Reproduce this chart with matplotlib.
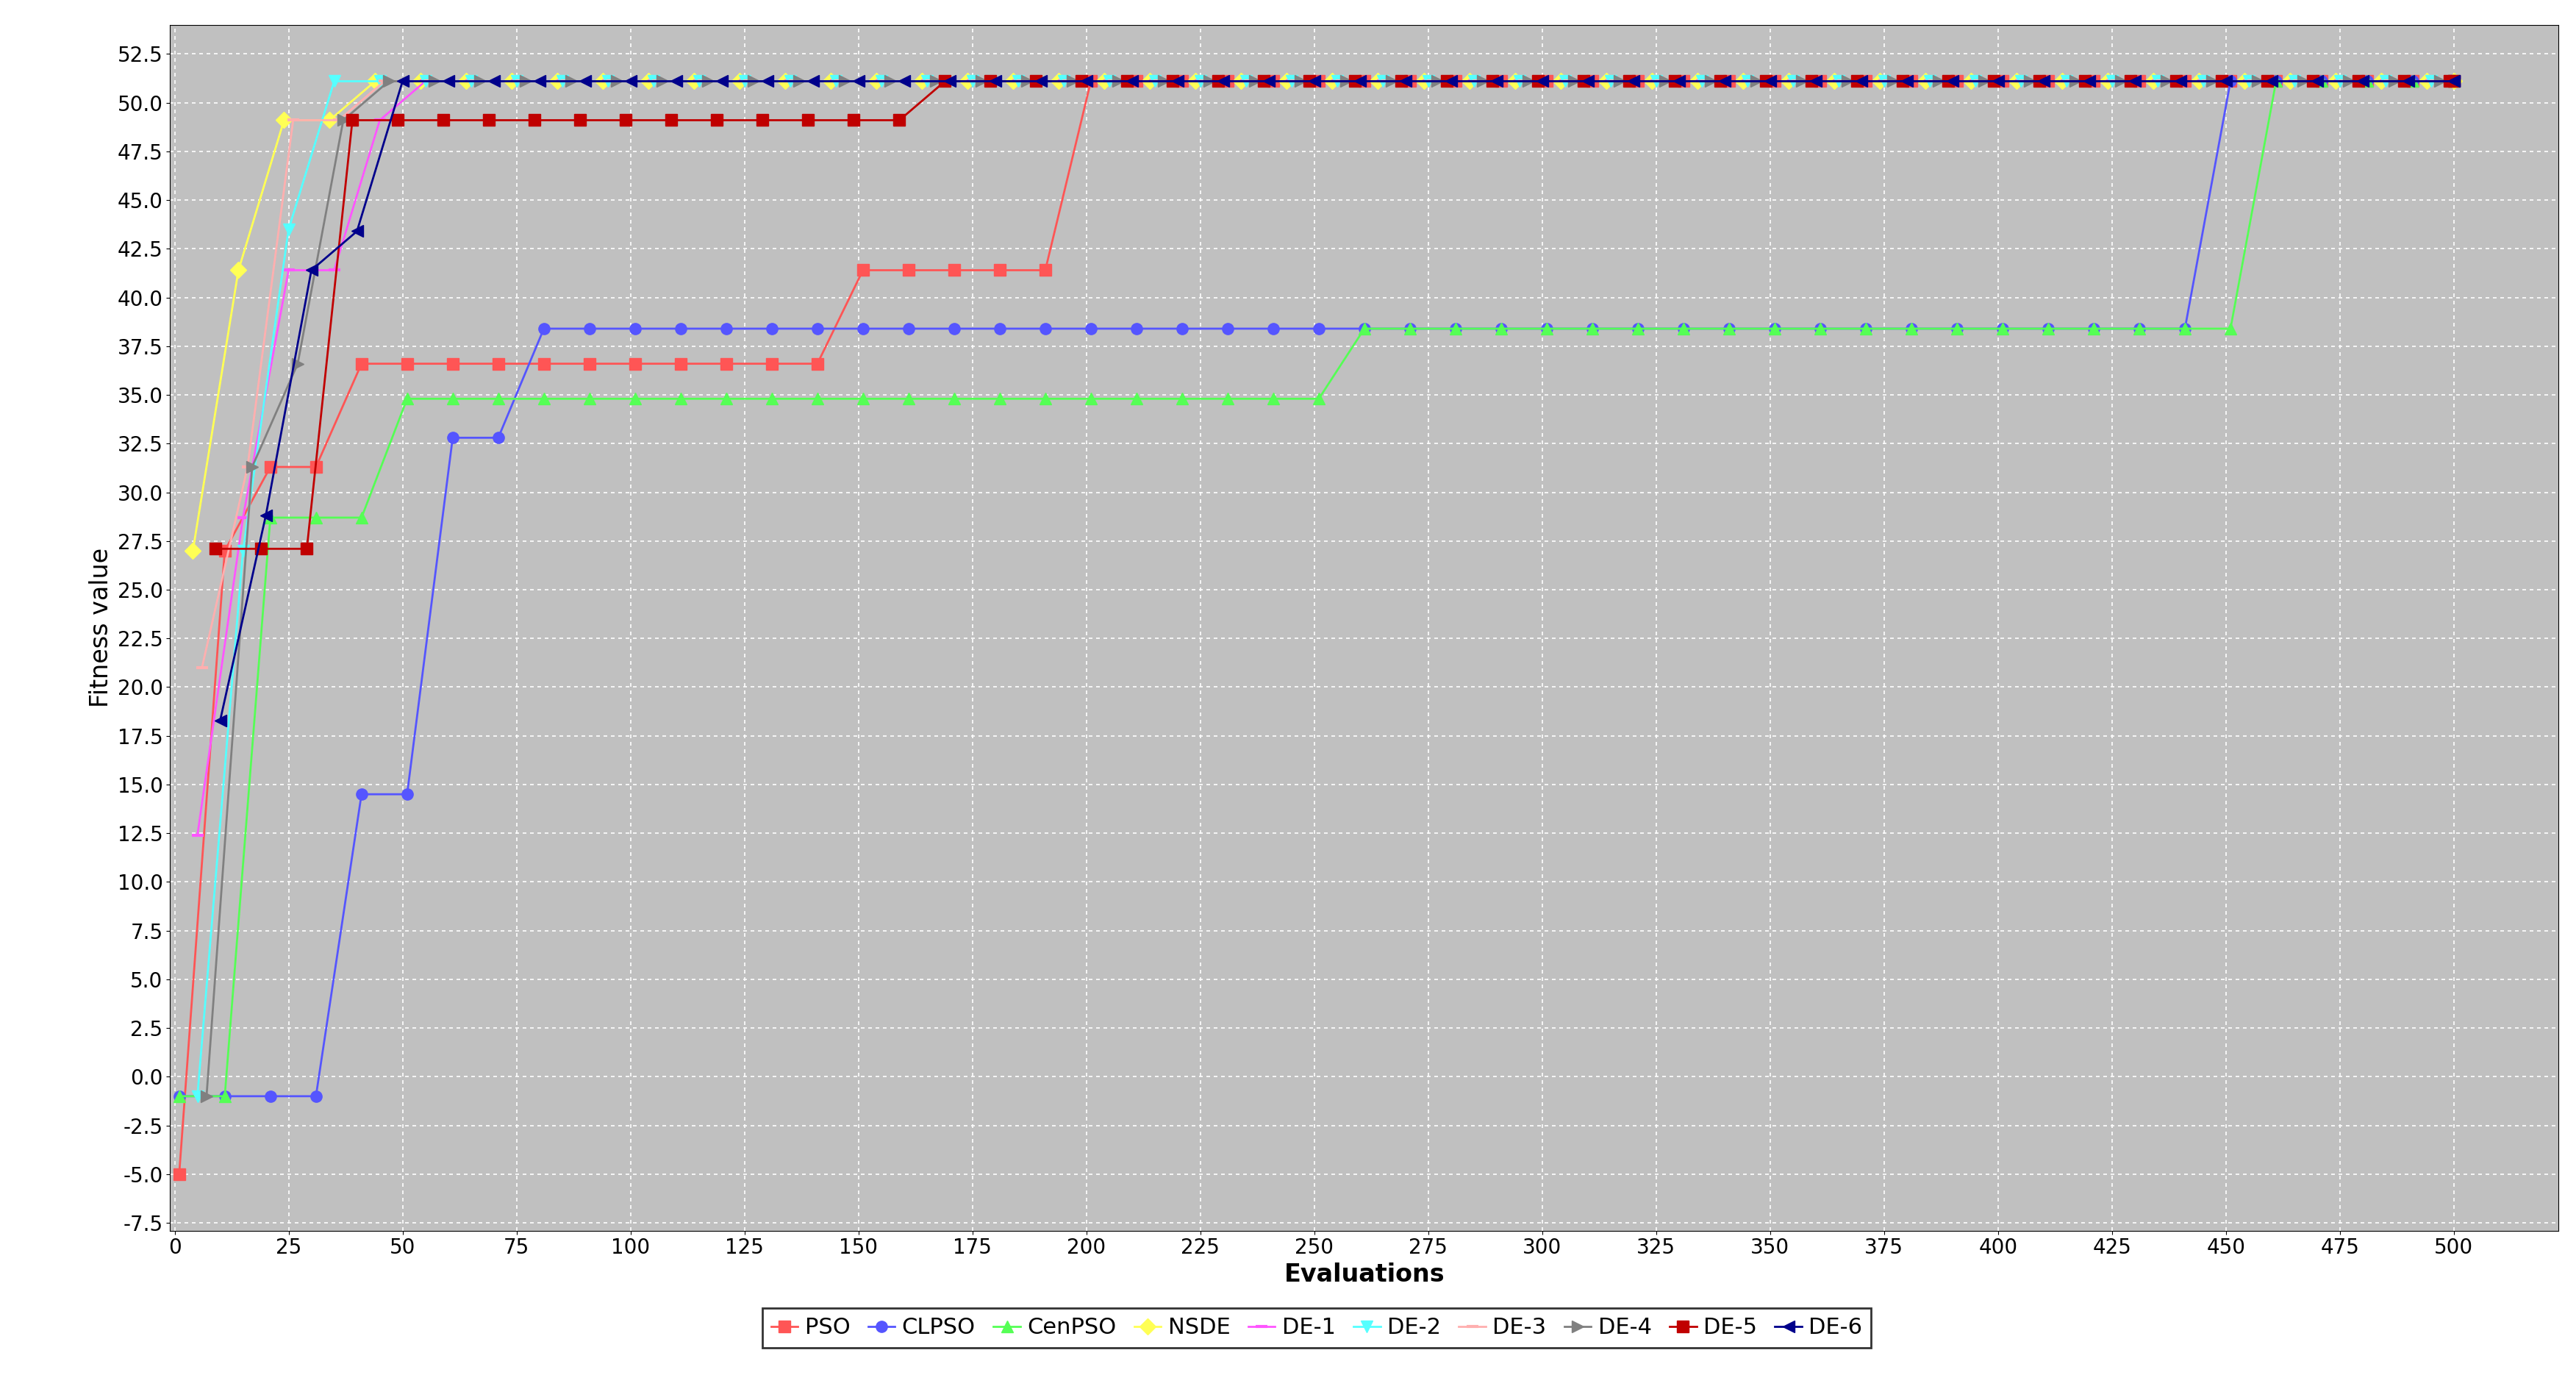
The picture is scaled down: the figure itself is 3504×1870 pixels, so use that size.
import numpy as np
from matplotlib import pyplot as plt

names = ["PSO", "CLPSO", "CenPSO", "NSDE", "DE-1", "DE-2", "DE-3", "DE-4", "DE-5", "DE-6"]
colors = ["#ff5555", "#5555ff", "#55ff55", "#ffff55", "#ff55ff", "#55ffff",
          "#ffafaf", "#808080", "#c00000", "#00008b"]
markers = ["s", "o", "^", "D", "_", "v", "_", ">", "s", "<"]
offsets = [1, 1, 1, 4, 5, 5, 6, 7, 9, 10]

pso = [-5.0, 27.0, 31.3, 31.3] + [36.6] * 11 + [41.4] * 5 + [51.1] * 31
clpso = [-1.0, -1.0, -1.0, -1.0, 14.5, 14.5, 32.8, 32.8] + [38.4] * 37 + [51.1] * 6
cenpso = [-1.0, -1.0, 28.7, 28.7, 28.7] + [34.8] * 21 + [38.4] * 20 + [51.1] * 5
nsde = [27.0, 41.4, 49.1, 49.1] + [51.1] * 47
de1 = [12.4, 28.7, 41.4, 41.4, 49.1] + [51.1] * 46
de2 = [-1.0, 27.0, 43.5] + [51.1] * 48
de3 = [21.0, 31.3, 49.1, 49.1] + [51.1] * 47
de4 = [-1.0, 31.3, 36.6, 49.1] + [51.1] * 47
de5 = [27.1, 27.1, 27.1] + [49.1] * 13 + [51.1] * 35
de6 = [18.3, 28.8, 41.4, 43.4] + [51.1] * 47
series = [pso, clpso, cenpso, nsde, de1, de2, de3, de4, de5, de6]

fig, ax = plt.subplots(figsize=(35.05, 18.7), dpi=100)
fig.subplots_adjust(left=0.066, right=0.993, top=0.982, bottom=0.105)
ax.set_facecolor("#c0c0c0")

for name, c, m, off, ys in zip(names, colors, markers, offsets, series):
    xs = np.arange(off, off + 10 * len(ys), 10)[:len(ys)]
    xs[-1] = 500
    xs = np.minimum(xs, 500)
    ax.plot(xs, ys, color=c, marker=m, markersize=11, markeredgewidth=3 if m == "_" else 1,
            markeredgecolor=c, linewidth=2, label=name)

ax.set_xlim(-1, 523)
ax.set_ylim(-7.9, 54)
ax.set_xticks(np.arange(0, 501, 25))
ax.set_yticks(np.arange(-7.5, 52.6, 2.5))
ax.yaxis.set_major_formatter(plt.FormatStrFormatter("%.1f"))
ax.grid(color="white", linestyle=(0, (3, 3)), linewidth=1.2)
ax.tick_params(labelsize=20)
ax.set_xlabel("Evaluations", fontsize=24, fontweight="bold")
ax.set_ylabel("Fitness value", fontsize=24)

leg = ax.legend(loc="upper center", bbox_to_anchor=(0.48, -0.055), ncol=10, fontsize=22,
                frameon=True, fancybox=False, edgecolor="black", handlelength=1.2,
                columnspacing=0.8, handletextpad=0.3)
leg.get_frame().set_linewidth(2)

plt.savefig("out.png")
